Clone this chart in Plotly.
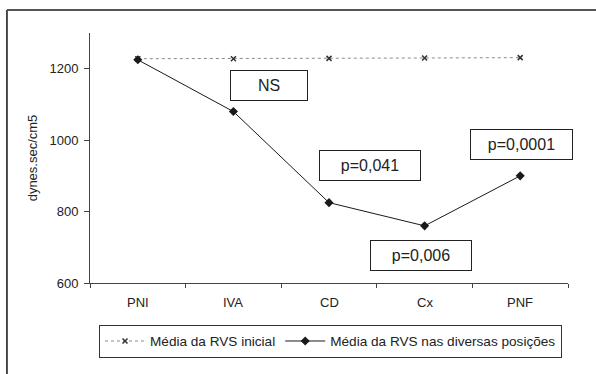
import plotly.graph_objects as go

# Positions along the x axis
categories = ["PNI", "IVA", "CD", "Cx", "PNF"]

# Mean systemic vascular resistance (dynes.sec/cm5)
rvs_inicial = [1228, 1228, 1229, 1230, 1231]
rvs_posicoes = [1225, 1080, 825, 760, 900]

# Significance labels
p_labels = ["NS", "p=0,041", "p=0,0001", "p=0,006"]

y_ticks = [600, 800, 1000, 1200]

W, H = 596, 374
L, R, T, B = 90, 28.3, 33, 90.7
PW, PH = W - L - R, H - T - B


def px_x(x):
    return (x - L) / PW


def px_y(y):
    return (H - B - y) / PH


fig = go.Figure()

fig.add_trace(go.Scatter(
    x=categories, y=rvs_inicial, mode="lines+markers",
    name="Média da RVS inicial",
    line=dict(color="#8a8a8a", width=1, dash="3px,3px"),
    marker=dict(symbol="x-thin", size=5, color="#333333",
                line=dict(width=1.5, color="#333333")),
))
fig.add_trace(go.Scatter(
    x=categories, y=rvs_posicoes, mode="lines+markers",
    name="Média da RVS nas diversas posições",
    line=dict(color="#1a1a1a", width=1),
    marker=dict(symbol="diamond", size=7, color="#1a1a1a"),
))

# Category labels under the x axis
for cat in categories:
    fig.add_annotation(
        xref="x", yref="paper", x=cat, y=0, yanchor="middle", xanchor="center",
        yshift=-19.5, text=cat, showarrow=False,
        font=dict(family="Liberation Sans, Arial", size=13, color="#222222"),
    )

# Boxed significance labels (centre x, centre y, width in pixels)
boxes = [(269, 85.5, 78), (370, 165.5, 102), (521.5, 144.5, 103), (421, 255.5, 102)]
for text, (cx, cy, bw) in zip(p_labels, boxes):
    fig.add_annotation(
        xref="paper", yref="paper", x=px_x(cx), y=px_y(cy),
        xanchor="center", yanchor="middle", text=text, showarrow=False,
        width=bw - 2, height=29, borderpad=0,
        bordercolor="#222222", borderwidth=1, bgcolor="white",
        font=dict(family="Liberation Sans, Arial", size=16, color="#222222"),
    )

# Outer frame (left and top edges)
fig.add_shape(type="line", xref="paper", yref="paper",
              x0=px_x(7), x1=px_x(7), y0=px_y(10), y1=px_y(380),
              line=dict(color="#111111", width=1.5))
fig.add_shape(type="line", xref="paper", yref="paper",
              x0=px_x(7), x1=px_x(600), y0=px_y(10), y1=px_y(10),
              line=dict(color="#555555", width=2))

fig.update_layout(
    width=W, height=H,
    margin=dict(l=L, r=R, t=T, b=B),
    paper_bgcolor="white", plot_bgcolor="white",
    font=dict(family="Liberation Sans, Arial", size=13, color="#222222"),
    showlegend=True,
    legend=dict(
        orientation="h", xanchor="left", yanchor="top",
        x=px_x(99), y=px_y(325),
        bordercolor="#333333", borderwidth=1, bgcolor="white",
        font=dict(size=13.6), itemwidth=40, tracegroupgap=0,
    ),
    xaxis=dict(
        type="category", range=[-0.5, 4.5], tickson="boundaries",
        ticks="outside", ticklen=4, tickcolor="#444444",
        showline=True, linecolor="#444444", linewidth=1,
        showgrid=False, zeroline=False, fixedrange=True,
        showticklabels=False,
    ),
    yaxis=dict(
        range=[600, 1300], tickvals=y_ticks,
        ticks="outside", ticklen=5, tickcolor="#444444",
        showline=True, linecolor="#444444", linewidth=1,
        showgrid=False, zeroline=False, ticklabelstandoff=3,
        title=dict(text="dynes.sec/cm5", standoff=8, font=dict(size=13)),
        tickfont=dict(size=13),
    ),
)

fig.write_html("out.html")
